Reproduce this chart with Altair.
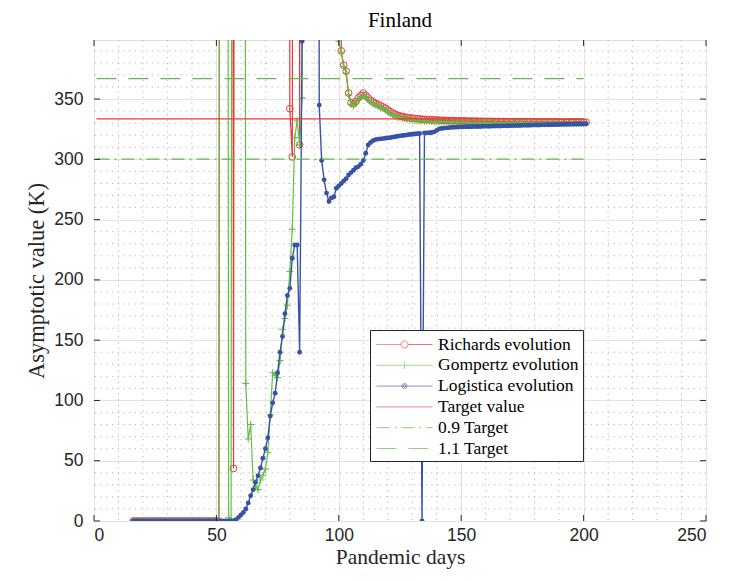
import altair as alt
import pandas as pd

# ---------------- data ----------------
HUGE = 2000  # fit ran away far above the visible range

days = list(range(16, 202))

richards = (
    [0] * 36 +                       # 16-51
    [HUGE] * 5 +                     # 52-56
    [43.6] +                         # 57
    [HUGE] * 22 +                    # 58-79
    [342, 302, HUGE, HUGE, 312] +    # 80-84
    [HUGE] * 16 +                    # 85-100
    [390, 378, 373, 355, 347, 346, 348, 351, 353, 355,
     353, 351, 349, 347.5, 346.5, 345.5, 344.5, 343.5, 342.5, 341,
     339.5, 338.5, 337.5, 336.5, 336, 335.5, 335, 334.7, 334.4, 334.1,
     333.9, 333.7, 333.5, 333.3, 333.1, 333, 332.9, 332.8, 332.7, 332.6,
     332.5, 332.4, 332.3, 332.3, 332.2, 332.1, 332.1, 332, 332, 331.9,
     331.9, 331.8, 331.8, 331.7, 331.7, 331.7, 331.6, 331.6, 331.6, 331.5,
     331.5, 331.5, 331.4, 331.4, 331.4, 331.4, 331.3, 331.3, 331.3, 331.3,
     331.2, 331.2, 331.2, 331.2, 331.1, 331.1, 331.1, 331.1, 331.1, 331.0,
     331.0, 331.0, 331.0, 331.0, 330.9, 330.9, 330.9, 330.9, 330.9, 330.9,
     330.8, 330.8, 330.8, 330.8, 330.8, 330.8, 330.8, 330.8, 330.8, 330.8, 330.8]
)

gompertz = (
    [0] * 36 +                       # 16-51
    [HUGE] * 3 +                     # 52-54
    [2.7, 0.5] +                     # 55-56
    [HUGE] * 5 +                     # 57-61
    [114, 68, 80, 34, 29, 26, 34, 38, 43, 57,
     88, 123, 121, 119, 133, 159, 168, 179, 207, 242,
     318, 332, 312, 351] +           # 62-85
    [HUGE] * 14 +                    # 86-99
    [398] +                          # 100
    [389, 377, 371.5, 353.5, 345.5, 344.5, 346.5, 349.5, 351.5, 353.5,
     351.5, 349.5, 347.5, 346, 345, 344, 343, 342, 341, 339.5,
     338, 337, 336, 335, 334.5, 334, 333.5, 333.2, 332.9, 332.6,
     332.4, 332.2, 332, 331.8, 331.6, 331.5, 331.4, 331.3, 331.2, 331.1,
     331, 331, 330.9, 330.9, 330.8, 330.8, 330.7, 330.7, 330.7, 330.6,
     330.6, 330.6, 330.5, 330.5, 330.5, 330.4, 330.4, 330.4, 330.4, 330.3,
     330.3, 330.3, 330.3, 330.2, 330.2, 330.2, 330.2, 330.2, 330.1, 330.1,
     330.1, 330.1, 330.1, 330.1, 330.0, 330.0, 330.0, 330.0, 330.0, 330.0,
     330.0, 329.9, 329.9, 329.9, 329.9, 329.9, 329.9, 329.9, 329.9, 329.9,
     329.9, 329.9, 329.9, 329.8, 329.8, 329.8, 329.8, 329.8, 329.8, 329.8, 329.8]
)

logistica = (
    [0] * 41 +                       # 16-56
    [0.3, 1, 3, 5, 7, 10, 15, 21, 26, 32,
     37.5, 44, 52, 60, 69, 87, 98, 106, 123, 140,
     153, 172, 187, 193, 218, 229, 229, 140, 398] +   # 57-85
    [HUGE] * 6 +                     # 86-91
    [345, 299, 283, 272, 265, 268, 269, 276, 278, 280,
     282, 284, 287, 289, 291, 293, 294, 296, 299, 305,
     312, 314, 315.5, 316.4, 316.8, 317, 317.2, 317.5, 317.8, 318,
     318.4, 318.8, 319.2, 319.5, 319.8, 320, 320.3, 320.6, 320.8, 321,
     321.2, 321.4] +                 # 92-133
    [0] +                            # 134
    [321.8, 322, 322.1, 322.3, 322.8, 324, 325.3, 325.6, 325.9, 326.1,
     326.3, 326.5, 326.6, 326.7, 326.8, 326.9] +      # 135-150
    [327, 327, 327.1, 327.1, 327.2, 327.2, 327.3, 327.3, 327.4, 327.4,
     327.5, 327.5, 327.6, 327.6, 327.7, 327.7, 327.8, 327.8, 327.9, 327.9,
     328, 328, 328.1, 328.1, 328.2, 328.2, 328.3, 328.3, 328.4, 328.4,
     328.5, 328.5, 328.6, 328.6, 328.7, 328.7, 328.8, 328.8, 328.9, 328.9,
     329, 329, 329.1, 329.1, 329.2, 329.2, 329.3, 329.3, 329.4, 329.4, 329.5]
)

target_days = [1, 200]
target_value = 333.5
target_low = 300.2     # 0.9 target
target_high = 366.9    # 1.1 target
y_top = 399

x_ticks = [0, 50, 100, 150, 200, 250]
y_ticks = [0, 50, 100, 150, 200, 250, 300, 350]
x_minor = [10, 20, 30, 40, 60, 70, 80, 90, 110, 120, 130, 140, 160, 170, 180,
           190, 210, 220, 230, 240]
y_minor = [10, 20, 30, 40, 60, 70, 80, 90, 110, 120, 130, 140, 160, 170, 180,
           190, 210, 220, 230, 240, 260, 270, 280, 290, 310, 320, 330, 340,
           360, 370, 380, 390]

names = ["Richards evolution", "Gompertz evolution", "Logistica evolution",
         "Target value", "0.9 Target", "1.1 Target"]

assert len(richards) == len(days) == len(gompertz) == len(logistica)

# ---------------- styles ----------------
RED = "#e8393a"
GREEN = "#62bd45"
BLUE = "#3953a4"
AX = "#262626"
SERIF = "Liberation Serif"
SANS = "Liberation Sans"

colors = [RED, GREEN, BLUE, RED, GREEN, GREEN]
dashes = [[1, 0], [1, 0], [1, 0], [1, 0], [13, 5, 2, 5], [20, 12]]
p_line = "M-0.8,0H4.8"
p_red = ("M-0.8,0H1.65M2.35,0H4.8M1.65,0A0.35,0.35 0 1 0 2.35,0"
         "A0.35,0.35 0 1 0 1.65,0")
p_green = "M-0.8,0H4.8M2,-0.35V0.35"
p_blue = ("M-0.8,0H4.8M1.75,0A0.25,0.25 0 1 0 2.25,0A0.25,0.25 0 1 0 1.75,0"
          "M1.88,0A0.12,0.12 0 1 0 2.12,0A0.12,0.12 0 1 0 1.88,0")
shapes = [p_red, p_green, p_blue, p_line, p_line, p_line]

xs = alt.Scale(domain=[0, 250], nice=False, zero=False)
ys = alt.Scale(domain=[0, y_top], nice=False, zero=False)
color_scale = alt.Scale(domain=names, range=colors)
dash_scale = alt.Scale(domain=names, range=dashes)
shape_scale = alt.Scale(domain=names, range=shapes)
leg = alt.Legend(title=None, orient="none", legendX=276, legendY=290,
                 padding=4, rowPadding=1.8, labelOffset=43, symbolSize=400,
                 symbolStrokeWidth=1, labelFont=SERIF, labelFontSize=17.5,
                 labelColor="#000000", labelLimit=400, fillColor="#ffffff",
                 strokeColor=AX, cornerRadius=0)

evo_df = pd.DataFrame({
    "day": days * 3,
    "value": richards + gompertz + logistica,
    "series": [names[0]] * len(days) + [names[1]] * len(days) + [names[2]] * len(days),
})
tgt_df = pd.DataFrame({
    "day": target_days * 3,
    "value": [target_value] * 2 + [target_low] * 2 + [target_high] * 2,
    "series": [names[3]] * 2 + [names[4]] * 2 + [names[5]] * 2,
})
legend_df = pd.DataFrame({"day": [-50] * 6, "value": [0] * 6, "series": names})
xminor_df = pd.DataFrame({"t": x_minor})
yminor_df = pd.DataFrame({"t": y_minor})
xt_df = pd.DataFrame({"t": x_ticks})
yt_df = pd.DataFrame({"t": y_ticks})

x_axis = alt.Axis(values=x_ticks, grid=True, gridColor="#e2e2e2", ticks=False,
                  domain=False, labelFont=SANS, labelFontSize=17.5, labelColor=AX,
                  labelPadding=5, title="Pandemic days", titleFont=SERIF,
                  titleFontSize=21.5, titleFontWeight="normal", titleColor=AX,
                  titlePadding=3)
y_axis = alt.Axis(values=y_ticks, grid=True, gridColor="#e2e2e2", ticks=False,
                  domain=False, labelFont=SANS, labelFontSize=17.5, labelColor=AX,
                  labelPadding=11, title="Asymptotic value (K)", titleFont=SERIF,
                  titleFontSize=22.5, titleFontWeight="normal", titleColor=AX,
                  titlePadding=5)

X = lambda f: alt.X(f, scale=xs, axis=x_axis)
Y = lambda f: alt.Y(f, scale=ys, axis=y_axis)


def line_layer(df, name, width):
    return alt.Chart(df).transform_filter(alt.datum.series == name).mark_line(
        strokeWidth=width, clip=True).encode(
        x=X("day:Q"), y=Y("value:Q"),
        color=alt.Color("series:N", scale=color_scale, legend=leg),
        strokeDash=alt.StrokeDash("series:N", scale=dash_scale, legend=leg),
    )


def point_layer(name, **kw):
    return alt.Chart(evo_df).transform_filter(alt.datum.series == name).mark_point(
        clip=True, opacity=1, **kw).encode(x=X("day:Q"), y=Y("value:Q"))


minor_x = alt.Chart(xminor_df).mark_rule(color="#b5b5b5", strokeWidth=1,
                                         strokeDash=[1.2, 4.5]).encode(x=X("t:Q"))
minor_y = alt.Chart(yminor_df).mark_rule(color="#b5b5b5", strokeWidth=1,
                                         strokeDash=[1.2, 4.5]).encode(y=Y("t:Q"))

r_line = line_layer(evo_df, names[0], 1.2)
r_pts = point_layer(names[0], shape="circle", filled=False, size=45,
                    strokeWidth=1, color=RED)
g_line = line_layer(evo_df, names[1], 1.2)
g_pts = point_layer(names[1], shape="M-1,0H1M0,-1V1", filled=False, size=49,
                    strokeWidth=1.1, color=GREEN)
b_line = line_layer(evo_df, names[2], 1.4)
b_pts = point_layer(names[2], shape="circle", filled=True, size=24,
                    color=BLUE)
t_line = line_layer(tgt_df, names[3], 1.2)
t9_line = line_layer(tgt_df, names[4], 1.2)
t11_line = line_layer(tgt_df, names[5], 1.2)

legend_layer = alt.Chart(legend_df).mark_point(clip=True, filled=False,
                                               strokeWidth=1).encode(
    x=X("day:Q"), y=Y("value:Q"),
    color=alt.Color("series:N", scale=color_scale, legend=leg),
    shape=alt.Shape("series:N", scale=shape_scale, legend=leg),
    strokeDash=alt.StrokeDash("series:N", scale=dash_scale, legend=leg),
)

tick_b = alt.Chart(xt_df).mark_rule(color=AX, y2Offset=-6).encode(
    x=X("t:Q"), y=alt.YDatum(0, scale=ys, axis=y_axis), y2=alt.Y2Datum(0))
tick_t = alt.Chart(xt_df).mark_rule(color=AX, y2Offset=6).encode(
    x=X("t:Q"), y=alt.YDatum(y_top, scale=ys, axis=y_axis), y2=alt.Y2Datum(y_top))
tick_l = alt.Chart(yt_df).mark_rule(color=AX, x2Offset=6).encode(
    y=Y("t:Q"), x=alt.XDatum(0, scale=xs, axis=x_axis), x2=alt.X2Datum(0))
tick_r = alt.Chart(yt_df).mark_rule(color=AX, x2Offset=-6).encode(
    y=Y("t:Q"), x=alt.XDatum(250, scale=xs, axis=x_axis), x2=alt.X2Datum(250))

chart = alt.layer(
    minor_x, minor_y,
    r_line, r_pts, g_line, g_pts, b_line, b_pts,
    t_line, t9_line, t11_line,
    legend_layer,
    tick_b, tick_t, tick_l, tick_r,
).properties(
    width=612, height=481,
    title=alt.TitleParams("Finland", font=SERIF, fontSize=21, fontWeight="normal",
                          color="#000000", anchor="middle", offset=9),
    padding={"left": 86, "top": 32, "right": 16, "bottom": 51},
    autosize=alt.AutoSizeParams(type="none"),
).configure_view(
    stroke=AX, strokeWidth=1
).configure(background="#ffffff")

chart.save("out.html", embed_options={"renderer": "svg", "actions": False})
